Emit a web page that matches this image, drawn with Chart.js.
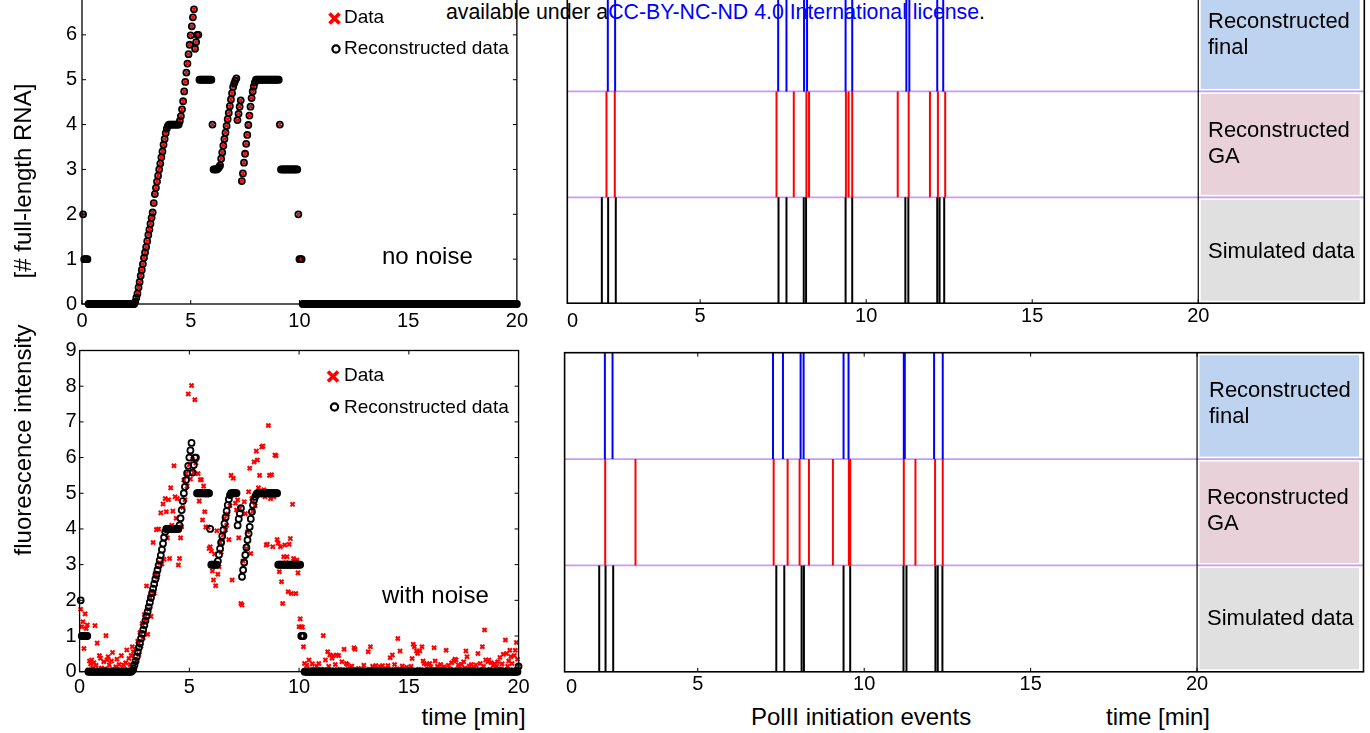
<!DOCTYPE html>
<html>
<head>
<meta charset="utf-8">
<script src="https://cdn.jsdelivr.net/npm/chart.js@4.4.1/dist/chart.umd.min.js"></script>
<style>
  html, body { margin: 0; padding: 0; background: #fff; }
  body { width: 1370px; height: 733px; position: relative; overflow: hidden; font-family: "Liberation Sans", Arial, sans-serif; }
  .panel { position: absolute; }
  .panel canvas { display: block; }
  .txt { position: absolute; white-space: nowrap; line-height: 1; color: #000; }
  .rot { transform: translate(-50%, -50%) rotate(-90deg); }
</style>
</head>
<body>

<div class="txt" style="left:446px;top:2px;font-size:21.3px">available under a<span style="color:#0000ff">CC-BY-NC-ND 4.0 International license</span>.</div>

<div class="panel" style="left:0;top:-25px"><canvas id="rnaChart" width="535" height="365"></canvas></div>
<div class="panel" style="left:0;top:330px"><canvas id="fluoChart" width="535" height="370"></canvas></div>
<div class="panel" style="left:540px;top:-25px"><canvas id="eventsClean" width="830" height="365"></canvas></div>
<div class="panel" style="left:540px;top:330px"><canvas id="eventsNoisy" width="830" height="370"></canvas></div>

<div class="txt rot" style="left:22.5px;top:180.5px;font-size:24px">[# full-length RNA]</div>
<div class="txt rot" style="left:22.5px;top:440px;font-size:24px">fluorescence intensity</div>
<div class="txt" style="left:382px;top:244.4px;font-size:24px">no noise</div>
<div class="txt" style="left:382px;top:582.7px;font-size:24px">with noise</div>
<div class="txt" style="left:421.6px;top:705px;font-size:24px">time [min]</div>
<div class="txt" style="left:751px;top:705px;font-size:24px">PolII initiation events</div>
<div class="txt" style="left:1106px;top:705px;font-size:24px">time [min]</div>
<div class="txt" style="left:567px;top:310.3px;font-size:20px">0</div>
<div class="txt" style="left:566px;top:676.3px;font-size:20px">0</div>

<div class="txt" style="left:1208px;top:10px;font-size:22px">Reconstructed</div>
<div class="txt" style="left:1208px;top:36px;font-size:22px">final</div>
<div class="txt" style="left:1208px;top:118.7px;font-size:22px">Reconstructed</div>
<div class="txt" style="left:1208px;top:145px;font-size:22px">GA</div>
<div class="txt" style="left:1208px;top:240px;font-size:22px">Simulated data</div>
<div class="txt" style="left:1209px;top:379.3px;font-size:22px">Reconstructed</div>
<div class="txt" style="left:1209px;top:404.9px;font-size:22px">final</div>
<div class="txt" style="left:1207px;top:486.4px;font-size:22px">Reconstructed</div>
<div class="txt" style="left:1207px;top:512.4px;font-size:22px">GA</div>
<div class="txt" style="left:1207px;top:607.4px;font-size:22px">Simulated data</div>

<script>
// one sample every 0.05 min, 0.05 .. 20.00 (one row = one minute)
const sampleStep = 0.05;

// noise-free trace: data and reconstruction coincide
const cleanSignal = [
  2,1,1,1,1,0,0,0,0,0,0,0,0,0,0,0,0,0,0,0,
  0,0,0,0,0,0,0,0,0,0,0,0,0,0,0,0,0,0,0,0,
  0,0,0,0,0,0,0,0,0.05,0.14,0.23,0.37,0.49,0.63,0.76,0.89,1.03,1.15,1.27,1.40,
  1.54,1.66,1.79,1.92,2.04,2.25,2.45,2.59,2.73,2.86,3.00,3.13,3.27,3.40,3.55,3.68,3.81,3.91,3.97,4.00,
  4,4,4,4,4,4,4,4,4,4.08,4.19,4.34,4.52,4.74,4.95,5.16,5.36,5.57,5.78,5.99,
  6.19,6.39,6.57,5.69,5.84,6.00,6.00,5,5,5,5,5,5,5,5,5,5,5,5,4,
  3,3,3,3,3.02,3.05,3.09,3.24,3.38,3.53,3.68,3.82,3.97,4.12,4.26,4.41,4.56,4.70,4.84,4.92,
  4.98,5.03,4.10,4.24,4.40,4.54,2.74,2.91,3.15,3.35,3.57,3.77,3.99,4.20,4.40,4.59,4.74,4.85,4.94,5.00,
  5,5,5,5,5,5,5,5,5,5,5,5,5,5,5,5,5,5,5,5,
  5,4,3,3,3,3,3,3,3,3,3,3,3,3,3,3,3,3,2,1,
  1,1,0,0,0,0,0,0,0,0,0,0,0,0,0,0,0,0,0,0,
  0,0,0,0,0,0,0,0,0,0,0,0,0,0,0,0,0,0,0,0,
  0,0,0,0,0,0,0,0,0,0,0,0,0,0,0,0,0,0,0,0,
  0,0,0,0,0,0,0,0,0,0,0,0,0,0,0,0,0,0,0,0,
  0,0,0,0,0,0,0,0,0,0,0,0,0,0,0,0,0,0,0,0,
  0,0,0,0,0,0,0,0,0,0,0,0,0,0,0,0,0,0,0,0,
  0,0,0,0,0,0,0,0,0,0,0,0,0,0,0,0,0,0,0,0,
  0,0,0,0,0,0,0,0,0,0,0,0,0,0,0,0,0,0,0,0,
  0,0,0,0,0,0,0,0,0,0,0,0,0,0,0,0,0,0,0,0,
  0,0,0,0,0,0,0,0,0,0,0,0,0,0,0,0,0,0,0,0
];

// measured fluorescence with noise
const noisySignal = [
  1.75,1.26,1.40,0.65,1.62,1.21,1.31,0.05,0.30,0.22,0.33,0.10,0.25,1.29,0.18,0.80,0.05,0.45,0.38,0.10,
  0.02,0.28,0.08,1.01,0.33,0.42,0.19,0.05,0.30,0.54,0.03,0.07,0.14,0.35,0.03,0.20,0.06,0.45,0.04,0.19,
  0.06,0.25,0.61,0.04,0.37,0.20,0.45,0.70,0.56,0.05,0.62,0.30,0.85,0.48,1.10,0.72,1.35,0.95,1.60,1.45,
  2.40,1.05,1.75,2.10,1.55,2.25,3.62,2.20,2.75,3.98,2.65,4.00,3.05,4.45,3.02,4.70,3.15,4.85,4.48,3.75,
  4.82,3.17,5.15,4.10,4.50,5.77,4.90,4.30,4.85,2.99,3.17,3.75,4.06,4.60,5.37,4.82,5.55,5.20,7.78,5.80,
  5.40,8.02,5.95,5.58,7.62,5.85,5.00,5.55,4.78,5.38,5.38,4.25,5.20,4.48,4.05,4.95,4.05,3.45,3.50,3.38,
  2.82,2.57,3.30,2.41,3.95,2.73,2.94,3.62,3.35,3.69,3.83,4.30,3.97,4.10,4.42,3.70,4.65,5.50,2.57,5.42,
  5.05,4.72,4.53,4.81,3.75,4.58,1.91,1.87,3.10,4.76,4.43,3.45,3.92,5.04,5.70,3.31,4.85,4.50,5.88,4.65,
  6.18,5.93,5.15,5.50,4.95,6.30,6.32,5.10,4.90,3.55,3.57,6.90,5.50,4.85,5.52,3.50,4.90,6.07,6.05,3.70,
  3.60,2.80,3.50,2.52,1.91,3.22,3.55,3.05,3.22,2.24,3.57,3.73,2.19,4.69,3.17,3.10,2.19,3.13,2.77,1.26,
  1.48,1.26,1.25,0.70,0.23,0.05,0.18,0.02,0.33,0.06,0.04,0.22,0.01,0.08,0.04,0.15,0.05,0.23,0.02,0.07,
  0.05,1.01,0.06,0.33,0.03,0.56,0.15,0.47,0.02,0.38,0.45,0.05,0.20,0.47,0.04,0.45,0.07,0.01,0.28,0.04,
  0.63,0.05,0.23,0.20,0.02,0.08,0.05,0.16,0.03,0.67,0.63,0.06,0.02,0.09,0.04,0.01,0.06,0.04,0.18,0.03,
  0.05,0.02,0.56,0.07,0.70,0.05,0.15,0.03,0.06,0.17,0.01,0.08,0.04,0.14,0.02,0.17,0.05,0.08,0.04,0.06,
  0.17,0.03,0.39,0.06,0.47,0.05,0.20,0.02,0.08,0.93,0.05,0.58,0.04,0.16,0.01,0.06,0.05,0.12,0.03,0.05,
  0.04,0.15,0.37,0.77,0.70,0.04,0.58,0.51,0.07,0.58,0.05,0.70,0.30,0.23,0.02,0.20,0.07,0.05,0.23,0.14,
  0.03,0.06,0.67,0.30,0.04,0.15,0.02,0.08,0.20,0.04,0.05,0.14,0.01,0.60,0.05,0.18,0.03,0.07,0.25,0.04,
  0.30,0.35,0.33,0.05,0.19,0.08,0.02,0.21,0.05,0.28,0.10,0.58,0.42,0.03,0.16,0.06,0.20,0.01,0.08,0.04,
  0.19,0.04,0.51,0.06,0.23,0.02,0.70,0.15,1.17,0.33,0.04,0.28,0.33,0.07,0.25,0.03,0.18,0.22,0.05,0.15,
  0.28,0.05,0.40,0.08,0.22,0.49,0.02,0.89,0.51,0.15,0.30,0.60,0.42,0.23,0.05,0.45,0.60,0.82,0.35,0.15
];

// reconstruction of the noisy trace
const noisyReconstruction = [
  2,1,1,1,1,1,1,0,0,0,0,0,0,0,0,0,0,0,0,0,
  0,0,0,0,0,0,0,0,0,0,0,0,0,0,0,0,0,0,0,0,
  0,0,0,0,0,0,0,0.03,0.09,0.19,0.30,0.42,0.55,0.68,0.80,0.93,1.06,1.18,1.30,1.43,
  1.56,1.68,1.81,1.94,2.07,2.20,2.33,2.46,2.59,2.72,2.85,2.98,3.12,3.26,3.42,3.59,3.76,3.92,4,4,
  4,4,4,4,4,4,4,4,4,4,4.10,4.30,4.53,4.78,5.00,5.18,5.37,5.56,5.77,6.00,
  6.20,6.41,5.58,5.79,6.00,6.00,5,5,5,5,5,5,5,5,5,5,5,5,4,3,
  3,3,3,3,3,3.10,3.28,3.45,3.62,3.80,3.97,4.15,4.32,4.50,4.67,4.83,4.95,5,5,5,
  5,5,5,4.10,4.28,4.43,4.58,2.66,2.85,3.06,3.27,3.48,3.69,3.87,4.06,4.28,4.48,4.67,4.81,4.90,
  4.97,5,5,5,5,5,5,5,5,5,5,5,5,5,5,5,5,5,5,5,
  3,3,3,3,3,3,3,3,3,3,3,3,3,3,3,3,3,3,3,3,
  3,1,1,1,0,0,0,0,0,0,0,0,0,0,0,0,0,0,0,0,
  0,0,0,0,0,0,0,0,0,0,0,0,0,0,0,0,0,0,0,0,
  0,0,0,0,0,0,0,0,0,0,0,0,0,0,0,0,0,0,0,0,
  0,0,0,0,0,0,0,0,0,0,0,0,0,0,0,0,0,0,0,0,
  0,0,0,0,0,0,0,0,0,0,0,0,0,0,0,0,0,0,0,0,
  0,0,0,0,0,0,0,0,0,0,0,0,0,0,0,0,0,0,0,0,
  0,0,0,0,0,0,0,0,0,0,0,0,0,0,0,0,0,0,0,0,
  0,0,0,0,0,0,0,0,0,0,0,0,0,0,0,0,0,0,0,0,
  0,0,0,0,0,0,0,0,0,0,0,0,0,0,0,0,0,0,0,0,
  0,0,0,0,0,0,0,0,0,0,0,0,0,0,0,0,0,0,0,0.15
];

// PolII initiation events (time, min)
const simulatedEvents = [2.04, 2.23, 2.46, 7.36, 7.60, 8.12, 8.19, 9.38, 9.58, 11.18, 11.27, 12.14, 12.21, 12.35];
const gaEventsClean = [2.18, 2.43, 7.30, 7.82, 8.20, 8.28, 9.39, 9.47, 9.58, 10.95, 11.28, 11.92, 12.16, 12.38];
const finalEventsClean = [2.22, 2.44, 7.35, 7.60, 8.13, 8.22, 9.38, 9.58, 11.21, 11.30, 12.14, 12.32];
const gaEventsNoisy = [2.22, 3.13, 7.28, 7.70, 8.06, 8.34, 9.06, 9.54, 9.58, 11.19, 11.54, 12.13, 12.36];
const finalEventsNoisy = [2.21, 2.44, 7.26, 7.56, 8.09, 8.18, 9.38, 9.53, 11.19, 11.22, 12.10, 12.36];

const eventTicks = [5, 10, 15, 20];
const bandNames = ['Simulated data', 'Reconstructed GA', 'Reconstructed final'];
const bandFills = ['#e0e0e0', '#e8d1d9', '#bdd3ef'];

Chart.defaults.font.family = '"Liberation Sans", Arial, sans-serif';
Chart.defaults.color = '#000';

const sampleTimes = cleanSignal.map((_, i) => Math.round((i + 1) * sampleStep * 100) / 100);

function toPoints(values) {
    return values.map((v, i) => ({ x: sampleTimes[i], y: v }));
}

// each event is a vertical stroke through its band
function eventStrokes(events, band) {
    const pts = [];
    events.forEach(e => {
        pts.push({ x: e, y: band }, { x: e, y: band + 1 }, { x: e, y: null });
    });
    return pts;
}

// box around the plot with inward tick marks (matlab look)
const boxFrame = {
    id: 'boxFrame',
    afterDraw(chart, args, opts) {
        const { ctx, chartArea: a, scales } = chart;
        const len = 4;
        ctx.save();
        ctx.strokeStyle = '#000';
        ctx.lineWidth = opts.lineWidth || 1.3;
        ctx.strokeRect(a.left, a.top, a.right - a.left, a.bottom - a.top);
        ctx.lineWidth = 1;
        ctx.beginPath();
        scales.x.ticks.forEach(t => {
            const px = scales.x.getPixelForValue(t.value);
            ctx.moveTo(px, a.bottom); ctx.lineTo(px, a.bottom - len);
            ctx.moveTo(px, a.top); ctx.lineTo(px, a.top + len);
        });
        if (opts.yTicks) {
            scales.y.ticks.forEach(t => {
                const py = scales.y.getPixelForValue(t.value);
                ctx.moveTo(a.left, py); ctx.lineTo(a.left + len, py);
                ctx.moveTo(a.right, py); ctx.lineTo(a.right - len, py);
            });
        }
        ctx.stroke();
        ctx.restore();
    }
};

const legendNote = {
    id: 'legendNote',
    afterDatasetsDraw(chart, args, opts) {
        if (!opts.items) return;
        const ctx = chart.ctx;
        ctx.save();
        ctx.font = '19px "Liberation Sans", Arial, sans-serif';
        ctx.textBaseline = 'middle';
        ctx.fillStyle = '#000';
        opts.items.forEach(it => {
            ctx.beginPath();
            if (it.marker === 'cross') {
                const s = 5;
                ctx.strokeStyle = '#ff0000';
                ctx.lineWidth = 3.6;
                ctx.moveTo(it.mx - s, it.my - s); ctx.lineTo(it.mx + s, it.my + s);
                ctx.moveTo(it.mx + s, it.my - s); ctx.lineTo(it.mx - s, it.my + s);
            } else {
                ctx.strokeStyle = '#000';
                ctx.lineWidth = 2.2;
                ctx.arc(it.mx, it.my, 3.6, 0, Math.PI * 2);
            }
            ctx.stroke();
            ctx.fillText(it.text, it.tx, it.ty);
        });
        ctx.restore();
    }
};

// label boxes, band separators and the divider at t = 20
const bandDecor = {
    id: 'bandDecor',
    beforeDatasetsDraw(chart) {
        const { ctx, chartArea: a, scales: { x, y } } = chart;
        const x20 = x.getPixelForValue(20);
        ctx.save();
        bandFills.forEach((c, i) => {
            const top = y.getPixelForValue(i + 1) + 2.5;
            const bottom = y.getPixelForValue(i) - 2.5;
            ctx.fillStyle = c;
            ctx.fillRect(x20 + 2.5, top, a.right - 4.5 - (x20 + 2.5), bottom - top);
        });
        ctx.strokeStyle = '#c99bf3';
        ctx.lineWidth = 1.8;
        [1, 2].forEach(v => {
            const py = y.getPixelForValue(v);
            ctx.beginPath(); ctx.moveTo(a.left, py); ctx.lineTo(a.right, py); ctx.stroke();
        });
        ctx.strokeStyle = '#000';
        ctx.lineWidth = 1.2;
        ctx.beginPath(); ctx.moveTo(x20, a.top); ctx.lineTo(x20, a.bottom); ctx.stroke();
        ctx.restore();
    }
};

function traceChart(id, opts) {
    const ctx = document.getElementById(id).getContext('2d');
    return new Chart(ctx, {
        type: 'scatter',
        data: {
            datasets: [{
                label: 'Reconstructed data',
                data: toPoints(opts.recon),
                pointStyle: 'circle',
                pointRadius: 3,
                pointBorderWidth: 1.8,
                borderColor: '#000',
                backgroundColor: 'rgba(0,0,0,0)',
                clip: false
            }, {
                label: 'Data',
                data: toPoints(opts.data),
                pointStyle: 'crossRot',
                pointRadius: opts.crossSize,
                pointBorderWidth: opts.crossWidth,
                borderColor: '#ff0000',
                backgroundColor: '#ff0000',
                clip: false
            }]
        },
        options: {
            responsive: false,
            animation: false,
            events: [],
            layout: { padding: opts.padding },
            plugins: {
                legend: { display: false },
                tooltip: { enabled: false },
                boxFrame: { yTicks: true, lineWidth: 1.3 },
                legendNote: { items: opts.legend }
            },
            scales: {
                x: {
                    type: 'linear', min: 0, max: 20,
                    grid: { display: false, drawTicks: false },
                    border: { display: false },
                    ticks: { stepSize: 5, maxRotation: 0, autoSkip: false, padding: opts.xPad, font: { size: 20, lineHeight: 1 } },
                    afterFit: s => { s.height = opts.xHeight; }
                },
                y: {
                    min: 0, max: opts.yMax,
                    grid: { display: false, drawTicks: false },
                    border: { display: false },
                    ticks: { stepSize: 1, padding: opts.yPad, font: { size: 20, lineHeight: 1 } },
                    afterFit: s => { s.width = opts.yWidth; }
                }
            }
        },
        plugins: [boxFrame, legendNote]
    });
}

function eventsChart(id, opts) {
    const ctx = document.getElementById(id).getContext('2d');
    const line = (label, events, band, color) => ({
        label: label,
        data: eventStrokes(events, band),
        showLine: true,
        spanGaps: false,
        pointRadius: 0,
        borderWidth: 2,
        borderColor: color
    });
    return new Chart(ctx, {
        type: 'scatter',
        data: {
            datasets: [
                line(bandNames[2], opts.final, 2, '#0000ff'),
                line(bandNames[1], opts.ga, 1, '#ff0000'),
                line(bandNames[0], simulatedEvents, 0, '#000000')
            ]
        },
        options: {
            responsive: false,
            animation: false,
            events: [],
            layout: { padding: opts.padding },
            plugins: {
                legend: { display: false },
                tooltip: { enabled: false },
                boxFrame: { yTicks: false, lineWidth: 1.6 }
            },
            scales: {
                x: {
                    type: 'linear', min: 1, max: 25,
                    grid: { display: false, drawTicks: false },
                    border: { display: false },
                    afterBuildTicks: s => { s.ticks = eventTicks.map(v => ({ value: v })); },
                    ticks: { maxRotation: 0, autoSkip: false, padding: opts.xPad, font: { size: 20, lineHeight: 1 } },
                    afterFit: s => { s.height = opts.xHeight; }
                },
                y: { display: false, min: 0, max: 3 }
            }
        },
        plugins: [bandDecor, boxFrame]
    });
}

traceChart('rnaChart', {
    recon: cleanSignal, data: cleanSignal, crossSize: 2, crossWidth: 2, yMax: 7,
    padding: { top: 10.5, right: 14.5, left: 0, bottom: 0 },
    xHeight: 36, yWidth: 82, xPad: 7, yPad: 5,
    legend: [
        { marker: 'cross', mx: 334.5, my: 43.6, text: 'Data', tx: 344, ty: 42.6 },
        { marker: 'circle', mx: 336, my: 74, text: 'Reconstructed data', tx: 344, ty: 74 }
    ]
});

traceChart('fluoChart', {
    recon: noisyReconstruction, data: noisySignal, crossSize: 2.9, crossWidth: 2.1, yMax: 9,
    padding: { top: 20.5, right: 14, left: 0, bottom: 0 },
    xHeight: 28.3, yWidth: 79.6, xPad: 5.3, yPad: 3,
    legend: [
        { marker: 'cross', mx: 333, my: 46.5, text: 'Data', tx: 344, ty: 45.5 },
        { marker: 'circle', mx: 334.5, my: 77, text: 'Reconstructed data', tx: 344, ty: 77.6 }
    ]
});

eventsChart('eventsClean', {
    final: finalEventsClean, ga: gaEventsClean,
    padding: { top: 10.5, right: 5.7, left: 27.3, bottom: 0 },
    xHeight: 36.8, xPad: 2.8
});

eventsChart('eventsNoisy', {
    final: finalEventsNoisy, ga: gaEventsNoisy,
    padding: { top: 22.7, right: 6.5, left: 24.6, bottom: 0 },
    xHeight: 28.2, xPad: 2.2
});
</script>
</body>
</html>
